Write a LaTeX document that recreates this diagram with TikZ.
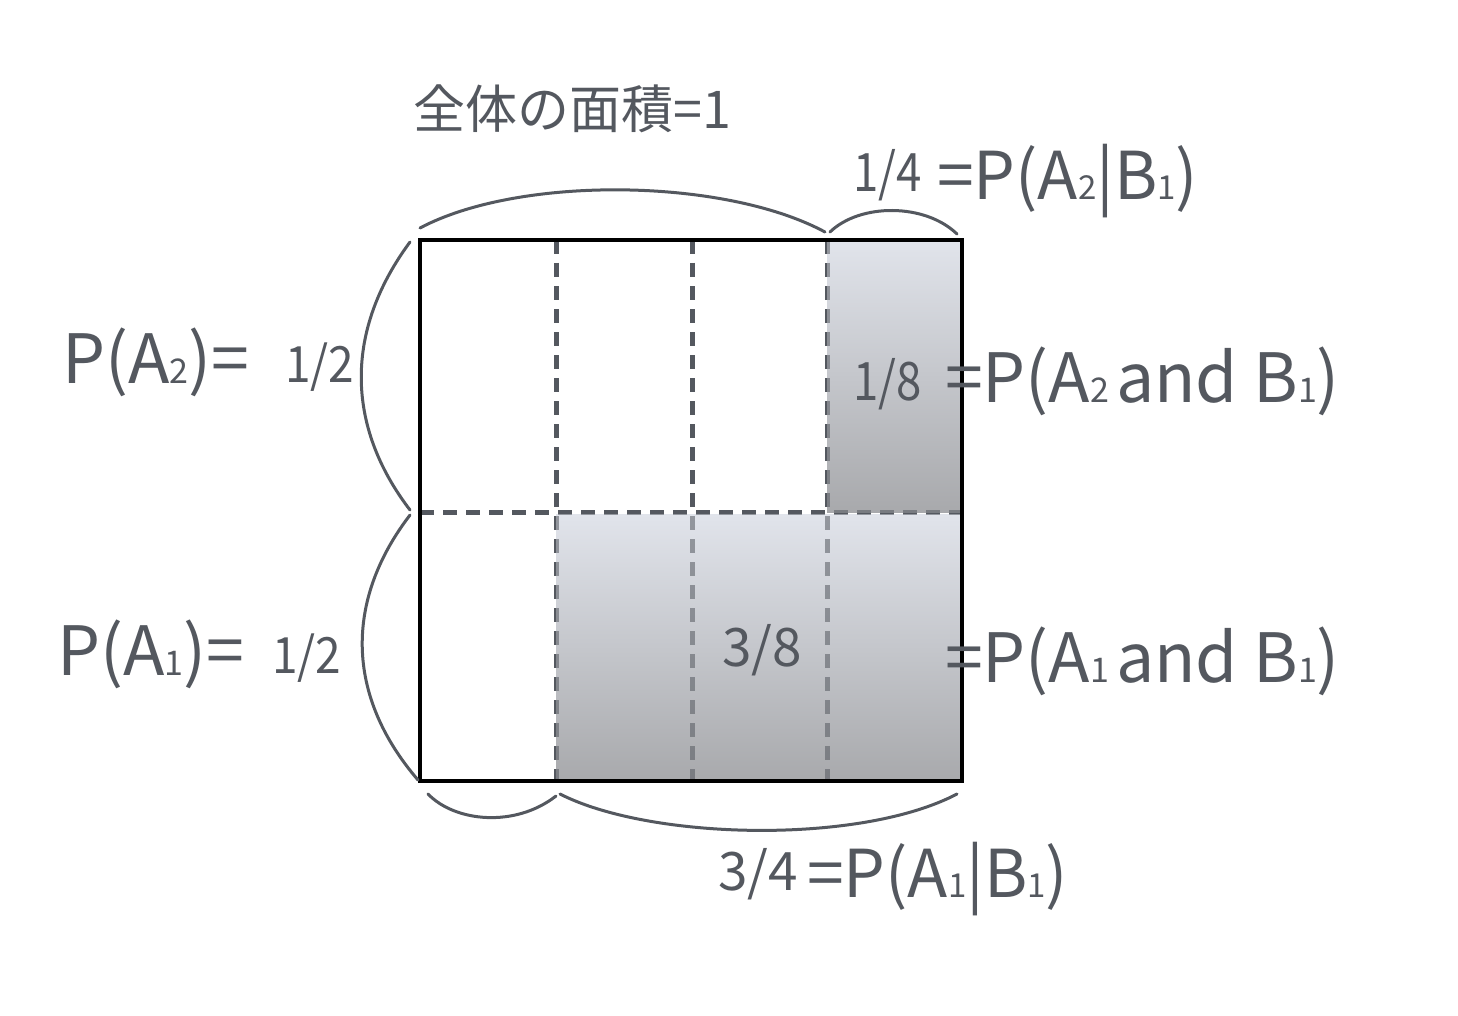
\documentclass[tikz,border=0pt]{standalone}
\usepackage{graphicx}
\usepackage{fontspec}
\setmainfont{Noto Sans CJK JP}
\definecolor{ink}{HTML}{54585F}
\definecolor{shadetop}{RGB}{225,228,235}
\definecolor{shadebot}{RGB}{168,169,172}
\newcommand\subd[1]{{\fontsize{34}{34}\selectfont #1}}
\newcommand\subm[1]{{\fontsize{33}{33}\selectfont #1}}
\newcommand\narrow[2]{\scalebox{#1}[1]{#2}}
\tikzset{
  txt/.style={inner sep=0pt, anchor=base west, text=ink},
  big/.style={txt, font=\fontsize{68}{68}\selectfont},
  mid/.style={txt, font=\fontsize{66}{66}\selectfont},
  fracl/.style={txt, font=\fontsize{53}{53}\selectfont},
  fracs/.style={txt, font=\fontsize{50}{50}\selectfont},
  brace/.style={draw=ink, line width=3pt, line cap=round},
  gridline/.style={draw=ink, line width=5pt, dash pattern=on 14pt off 9pt},
  area/.style={top color=shadetop, bottom color=shadebot, draw=none},
  frame/.style={draw=black, line width=4pt}
}
\begin{document}
\begin{tikzpicture}[x=1pt,y=-1pt]
\useasboundingbox[fill=white] (0,0) rectangle (1458,1016);
% corners and grid coordinates
\coordinate (nw) at (420,240);
\coordinate (se) at (962,781);
\coordinate (v1t) at (556,240); \coordinate (v1b) at (556,781);
\coordinate (v2t) at (692,240); \coordinate (v2b) at (692,781);
\coordinate (v3t) at (827,240); \coordinate (v3b) at (827,781);
\coordinate (hl) at (420,512); \coordinate (hr) at (962,512);
% dashed grid
\foreach \a/\b in {v1t/v1b, v2t/v2b, v3t/v3b, hl/hr}
  \draw[gridline] (\a) -- (\b);
% shaded areas
\fill[area] (827,240) rectangle (962,512);
\fill[area] (556,514) rectangle (962,781);
% dashes seen through the shading
\foreach \a/\b in {v1t/v1b, v2t/v2b, v3t/v3b, hl/hr}
  \draw[gridline, draw opacity=0.55] (\a) -- (\b);
% frame
\draw[frame] (nw) rectangle (se);
% braces
\draw[brace] (420,228) .. controls (520,175) and (725,178) .. (825,232);
\draw[brace] (830,232) .. controls (860,203) and (925,203) .. (957,234);
\draw[brace] (410,242) .. controls (345,330) and (345,425) .. (410,510);
\draw[brace] (410,515) .. controls (345,600) and (345,695) .. (418,780);
\draw[brace] (428,794) .. controls (455,822) and (515,828) .. (556,796);
\draw[brace] (560,794) .. controls (650,840) and (860,845) .. (957,794);
% texts
\node[txt, font=\fontsize{52}{52}\selectfont] (title) at (413,129) {全体の面積=1};
\node[fracl] (f14) at (853,192) {\narrow{0.86}{1/4}};
\node[mid] (pa2b1) at (937,200) {=P(A\subm{2}|B\subm{1})};
\node[big] (pa2) at (62,383) {P(A\subd{2})=};
\node[fracs] (h2) at (285,382) {\narrow{0.92}{1/2}};
\node[fracl] (f18) at (853,400) {\narrow{0.86}{1/8}};
\node[big] (pa2andb1) at (945,402) {=P(A\subd{2}\kern7pt and B\subd{1})};
\node[big] (pa1) at (57,675) {P(A\subd{1})=};
\node[fracs] (h1) at (272,673) {\narrow{0.92}{1/2}};
\node[fracl] (f38) at (722,666) {3/8};
\node[big] (pa1andb1) at (945,682) {=P(A\subd{1}\kern7pt and B\subd{1})};
\node[fracl] (f34) at (718,890) {3/4};
\node[mid] (pa1b1) at (807,897) {=P(A\subm{1}|B\subm{1})};
\end{tikzpicture}
\end{document}
